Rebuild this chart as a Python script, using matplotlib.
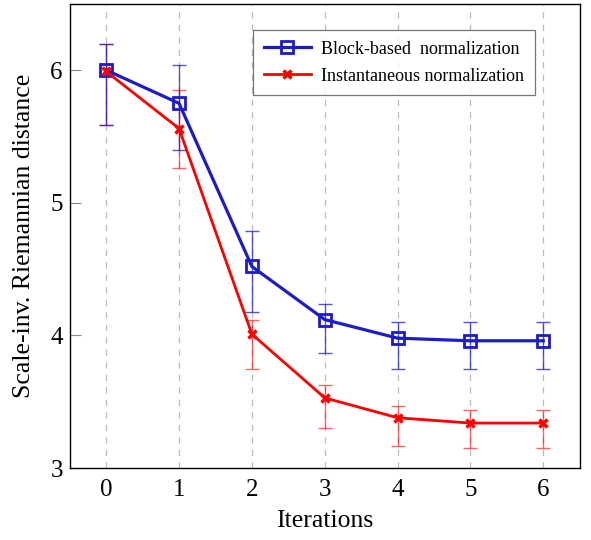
import matplotlib

matplotlib.use("Agg")
import matplotlib.pyplot as plt

plt.rcParams["font.family"] = ["Liberation Serif", "DejaVu Serif"]
plt.rcParams["mathtext.fontset"] = "stix"

iters = [0, 1, 2, 3, 4, 5, 6]

block = [6.00, 5.75, 4.52, 4.12, 3.98, 3.96, 3.96]
block_hi = [6.20, 6.04, 4.79, 4.24, 4.10, 4.10, 4.10]
block_lo = [5.59, 5.40, 4.18, 3.87, 3.75, 3.75, 3.75]

inst = [5.99, 5.56, 4.01, 3.53, 3.38, 3.34, 3.34]
inst_hi = [6.20, 5.85, 4.12, 3.63, 3.47, 3.44, 3.44]
inst_lo = [5.59, 5.26, 3.75, 3.30, 3.17, 3.15, 3.15]

BLUE = "#1c1cc8"
RED = "#ff0000"

fig = plt.figure(figsize=(5.91, 5.4), dpi=100)
ax = fig.add_axes([0.118, 0.133, 0.863, 0.860])

for xv in iters:
    ax.axvline(xv, color="#bbbbbb", linestyle=(0, (5, 5)), linewidth=0.9, zorder=0)

ax.errorbar(iters, inst,
            yerr=[[m - l for m, l in zip(inst, inst_lo)], [h - m for m, h in zip(inst, inst_hi)]],
            fmt="none", ecolor=RED, alpha=0.6, elinewidth=1.0, capsize=5, capthick=1.0, zorder=2)
ax.errorbar(iters, block,
            yerr=[[m - l for m, l in zip(block, block_lo)], [h - m for m, h in zip(block, block_hi)]],
            fmt="none", ecolor=BLUE, alpha=0.75, elinewidth=1.0, capsize=5, capthick=1.0, zorder=2)

ax.plot(iters, block, color=BLUE, linewidth=2.3, marker="s", markersize=9,
        markerfacecolor="none", markeredgewidth=2.0, label="Block-based  normalization", zorder=3)
ax.plot(iters, inst, color=RED, linewidth=2.0, marker="x", markersize=6,
        markeredgewidth=2.5, label="Instantaneous normalization", zorder=4)

ax.set_xlim(-0.5, 6.5)
ax.set_ylim(3, 6.5)
ax.set_xticks(iters)
ax.set_yticks([3, 4, 5, 6])
ax.tick_params(axis="y", direction="in", length=8, width=0.8, labelsize=18,
               color="#888888", pad=5)
ax.tick_params(axis="x", direction="in", length=0, labelsize=18, pad=8)
for s in ax.spines.values():
    s.set_linewidth(1.0)
ax.set_xlabel("Iterations", fontsize=18.5, labelpad=6)
ax.set_ylabel("Scale-inv. Riemannian distance", fontsize=18.5, labelpad=11)

leg = ax.legend(loc="upper left", bbox_to_anchor=(0.359, 0.944), fontsize=13,
                frameon=True, fancybox=False, edgecolor="#555555", handlelength=2.6,
                borderpad=0.6, labelspacing=0.55, handletextpad=0.6, borderaxespad=0)
leg.get_frame().set_linewidth(0.9)

fig.savefig("out.png", dpi=100)
